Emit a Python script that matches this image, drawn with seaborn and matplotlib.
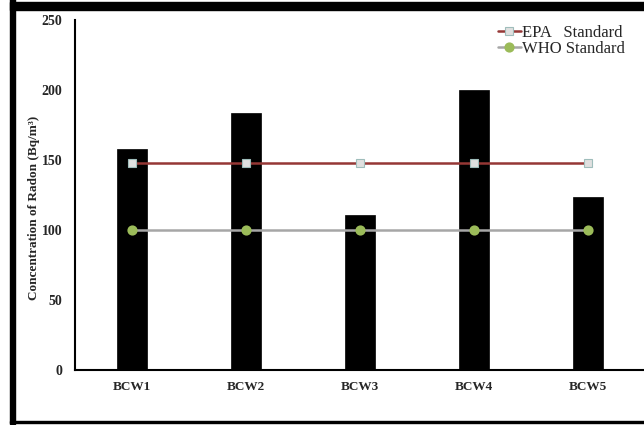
import matplotlib
matplotlib.use('Agg')
import matplotlib.pyplot as plt
import seaborn as sns
from matplotlib.patches import Rectangle

# data
sites = ['BCW1', 'BCW2', 'BCW3', 'BCW4', 'BCW5']
radon = [158, 184, 111, 200, 124]
epa = [148, 148, 148, 148, 148]
who = [100, 100, 100, 100, 100]

sns.set_style('white')
plt.rcParams['font.family'] = ['Liberation Serif', 'DejaVu Serif']

W, H = 644, 425
fig = plt.figure(figsize=(W / 100, H / 100), dpi=100)
ax = fig.add_axes([75 / W, 55 / H, 570 / W, 349.5 / H])

sns.barplot(x=sites, y=radon, color='black', width=0.26, ax=ax,
            saturation=1, edgecolor='black', linewidth=0.5)

sns.pointplot(x=sites, y=epa, ax=ax, color='#953735', markers='s',
              errorbar=None, label='EPA   Standard', linewidth=1.8,
              markersize=6, markerfacecolor='#e0e0e0',
              markeredgecolor='#9fbdbb', markeredgewidth=0.8)
sns.pointplot(x=sites, y=who, ax=ax, color='#a6a6a6', markers='o',
              errorbar=None, label='WHO Standard', linewidth=1.8,
              markersize=6, markerfacecolor='#9bbb59',
              markeredgecolor='#9bbb59')

ax.set_xlim(-0.5, 4.5)
ax.set_ylim(0, 250)
ax.set_yticks(range(0, 251, 50))
ax.tick_params(axis='both', length=0)
ax.tick_params(axis='y', pad=9, labelsize=10)
ax.tick_params(axis='x', pad=8, labelsize=9.5)
for lab in ax.get_xticklabels() + ax.get_yticklabels():
    lab.set_fontweight('bold')
ax.set_ylabel('Concentration of Radon (Bq/m³)', fontsize=9.5,
              fontweight='bold')
ax.yaxis.set_label_coords(-0.061, 0.465)
ax.set_xlabel('')

for side in ['top', 'right']:
    ax.spines[side].set_visible(False)
for side in ['left', 'bottom']:
    ax.spines[side].set_color('black')
    ax.spines[side].set_linewidth(1.5)

leg = ax.legend(loc='upper right', bbox_to_anchor=(0.976, 1.007), frameon=False,
                fontsize=12, handlelength=1.4, handletextpad=0.05,
                labelspacing=0.0, borderaxespad=0)

# black picture frame
fig.patches.append(Rectangle((10 / W, 1 - 10 / H), 1, 8 / H, transform=fig.transFigure,
                             color='black', zorder=0))
fig.patches.append(Rectangle((10 / W, 1 / H), 5 / W, 1, transform=fig.transFigure,
                             color='black', zorder=0))
fig.patches.append(Rectangle((10 / W, 2 / H), 1, 2 / H, transform=fig.transFigure,
                             color='black', zorder=0))

fig.savefig('out.png', dpi=100)
